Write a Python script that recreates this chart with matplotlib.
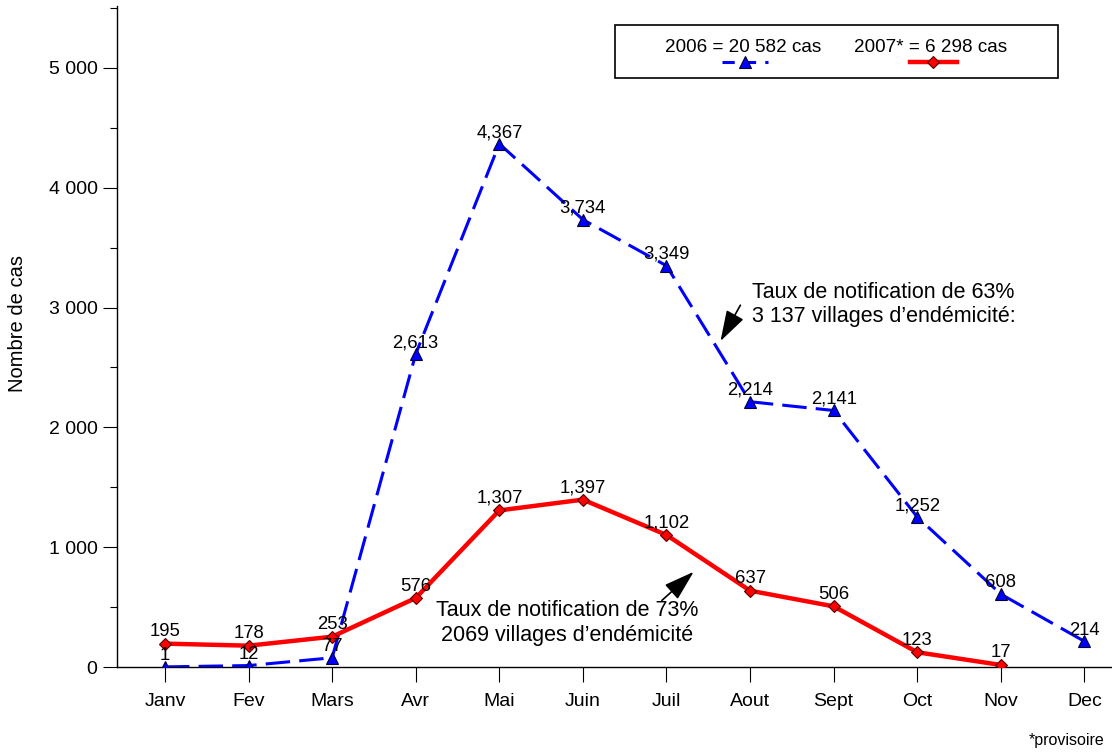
"""
Cas notifies par mois, 2006 vs 2007 (provisoire).
"""

import matplotlib.pyplot as plt
from matplotlib.lines import Line2D
from matplotlib.patches import Rectangle
import matplotlib.ticker as mticker

plt.rcParams['font.family'] = ['Liberation Sans', 'DejaVu Sans']

months = ["Janv", "Fev", "Mars", "Avr", "Mai", "Juin", "Juil", "Aout", "Sept", "Oct", "Nov", "Dec"]
cases_2006 = [1, 12, 77, 2613, 4367, 3734, 3349, 2214, 2141, 1252, 608, 214]
cases_2007 = [195, 178, 253, 576, 1307, 1397, 1102, 637, 506, 123, 17]
legend_2006 = "2006 = 20 582 cas"
legend_2007 = "2007* = 6 298 cas"

fig = plt.figure(figsize=(11.12, 7.55), dpi=100)
ax = fig.add_axes([117/1112, 88/755, 995/1112, 661/755])

x06 = list(range(len(cases_2006)))
x07 = list(range(len(cases_2007)))

ax.plot(x06, cases_2006, color='#0000FF', lw=2.2, dashes=(8, 3),
        marker='^', ms=8, mfc='#0000FF', mec='#000033', mew=0.8, zorder=3)
ax.plot(x07, cases_2007, color='#FF0000', lw=3.2,
        marker='D', ms=6.5, mfc='#FF0000', mec='#550000', mew=0.8, zorder=4)

for xi, v in zip(x06, cases_2006):
    ax.annotate(f"{v:,}", (xi, v), xytext=(0, 2), textcoords='offset points',
                ha='center', va='bottom', fontsize=13.3, zorder=5)
for xi, v in zip(x07, cases_2007):
    ax.annotate(f"{v:,}", (xi, v), xytext=(0, 2.5), textcoords='offset points',
                ha='center', va='bottom', fontsize=13.3, zorder=5)

ax.set_xlim(-0.574, 11.33)
ax.set_ylim(0, 5517)
ax.set_xticks(x06)
ax.set_xticklabels(months)
ax.yaxis.set_major_locator(mticker.MultipleLocator(1000))
ax.yaxis.set_minor_locator(mticker.MultipleLocator(500))
ax.yaxis.set_major_formatter(mticker.FuncFormatter(lambda v, p: f"{int(v):,}".replace(",", " ")))
ax.tick_params(axis='y', which='major', direction='out', length=10, width=0.8, labelsize=14, pad=4)
ax.tick_params(axis='y', which='minor', direction='out', length=5, width=0.8)
ax.tick_params(axis='x', direction='out', length=11, width=0.8, labelsize=14, pad=8)
ax.spines['top'].set_visible(False)
ax.spines['right'].set_visible(False)
for s in ('left', 'bottom'):
    ax.spines[s].set_linewidth(1.0)

fig.text(18/1112, 1 - 324/755, "Nombre de cas", rotation=90, ha='center', va='center', fontsize=14.5)

# annotations
arrow = dict(arrowstyle='-|>,head_length=1.9,head_width=0.6', color='black', lw=1.2)
ax.annotate("", xy=(6.63, 2700), xytext=(6.9, 3040), arrowprops=arrow)
ax.text(7.02, 3026, "Taux de notification de 63%\n3 137 villages d\u2019endémicité:",
        ha='left', va='center', fontsize=15.5, linespacing=1.2)
ax.annotate("", xy=(6.35, 810), xytext=(5.92, 540), arrowprops=arrow)
ax.text(4.81, 367, "Taux de notification de 73%\n2069 villages d\u2019endémicité",
        ha='center', va='center', fontsize=15.5, linespacing=1.2)

# legend box
fig.patches.append(Rectangle((615/1112, 1 - 78/755), 443/1112, 53/755, transform=fig.transFigure,
                             fill=False, edgecolor='black', lw=1.2))
fig.text(743/1112, 1 - 47/755, legend_2006, ha='center', va='center', fontsize=13.6)
fig.text(931/1112, 1 - 47/755, legend_2007, ha='center', va='center', fontsize=13.6)
fig.lines.append(Line2D([722/1112, 768/1112], [1 - 62/755, 1 - 62/755], transform=fig.transFigure,
                        color='#0000FF', lw=2.2, dashes=(4, 3)))
fig.lines.append(Line2D([745/1112], [1 - 62/755], transform=fig.transFigure,
                        marker='^', ms=8, mfc='#0000FF', mec='#000033', mew=0.8, ls='none'))
fig.lines.append(Line2D([910/1112, 957/1112], [1 - 62/755, 1 - 62/755], transform=fig.transFigure,
                        color='#FF0000', lw=3.2))
fig.lines.append(Line2D([933/1112], [1 - 62/755], transform=fig.transFigure,
                        marker='D', ms=6.5, mfc='#FF0000', mec='#550000', mew=0.8, ls='none'))

fig.text(1105/1112, 1 - 741/755, "*provisoire", ha='right', va='center', fontsize=11.5)

plt.savefig("out.png", dpi=100)
